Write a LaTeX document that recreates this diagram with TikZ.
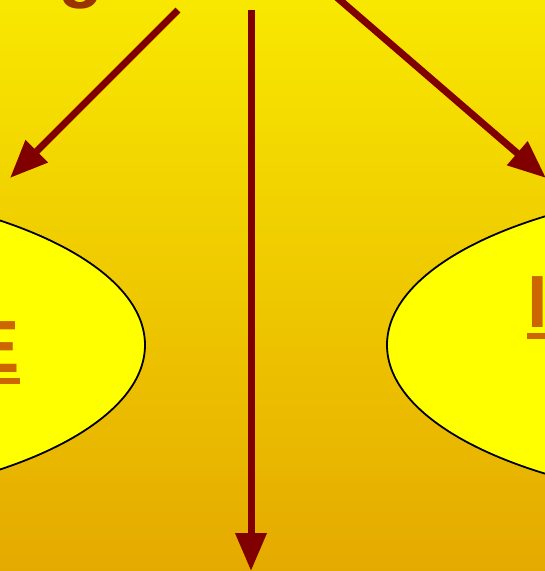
\documentclass[tikz,border=0pt]{standalone}
\usepackage{fontspec}
\setmainfont{Liberation Sans}
\usetikzlibrary{arrows.meta,shapes.geometric}
\definecolor{bgtop}{RGB}{248,232,0}
\definecolor{bgbot}{RGB}{229,170,0}
\definecolor{arrowred}{RGB}{128,0,0}
\definecolor{wordorange}{RGB}{204,102,0}
\definecolor{titlebrown}{RGB}{153,51,0}
\definecolor{branchfill}{RGB}{255,255,0}

\begin{document}
\begin{tikzpicture}[x=1pt, y=-1pt,
    >={Triangle[length=38pt,width=30pt]},
    branch/.style={ellipse, draw=black, line width=1.8pt, fill=branchfill, minimum width=780pt, minimum height=320pt, inner sep=0pt},
    word/.style={font=\fontsize{74}{80}\selectfont\bfseries, text=wordorange, inner sep=0pt},
    title/.style={font=\fontsize{74}{80}\selectfont\bfseries, text=titlebrown, inner sep=0pt},
    link/.style={->, draw=arrowred, fill=arrowred, line width=7pt},
    uline/.style={draw=wordorange, line width=6pt}
]
\useasboundingbox (0,0) rectangle (545,571);
\shade[top color=bgtop, bottom color=bgbot] (0,0) rectangle (545,571);

% root and the two side branches
\node[title, anchor=base west] (root) at (58,-7) {g};
\node[branch] (lbranch) at (-245,345) {};
\node[branch] (rbranch) at (777,345) {};
\node[word, anchor=base east] (lword) at (20,372) {E};
\node[word, anchor=base west] (rword) at (527,327) {I};
\draw[uline] ([yshift=-9pt]lword.base west) -- ([yshift=-9pt]lword.base east);
\draw[uline] ([yshift=-9pt]rword.base west) -- ([yshift=-9pt]rword.base east);

% arrow ends
\coordinate (lstart) at (178,10);
\coordinate (mstart) at (251,10);
\coordinate (rstart) at (326,-12);
\coordinate (lend) at (10,178);
\coordinate (mend) at (251,571);
\coordinate (rend) at (546,178);

\draw[link] (lstart) -- (lend);
\draw[link] (mstart) -- (mend);
\draw[link] (rstart) -- (rend);
\end{tikzpicture}
\end{document}
